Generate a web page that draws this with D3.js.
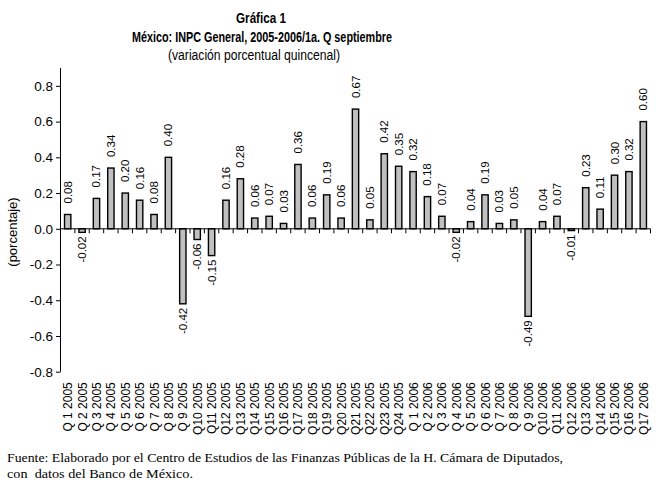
<html>
<meta charset="utf-8">
<head>
  <title>Gráfica 1</title>
  <style>
    body, html { margin: 0; padding: 0; background: white; }
    #chart { width: 660px; height: 482px; }
    .title text { font-family: 'Liberation Sans Narrow', 'Liberation Sans', Arial, sans-serif; fill: #000; }
    .y_axis text { font-family: 'Liberation Sans', Arial, sans-serif; font-size: 13.5px; fill: #000; }
    .y_axis path, .y_axis line, .x_axis path, .x_axis line { stroke: #000; stroke-width: 1; }
    .cat_labels text { font-family: 'Liberation Sans', Arial, sans-serif; font-size: 12px; fill: #000; }
    .val_labels text { font-family: 'Liberation Sans', Arial, sans-serif; font-size: 11.5px; fill: #000; }
    .note text { font-family: 'Liberation Serif', 'Times New Roman', serif; font-size: 13px; fill: #000; }
  </style>
  <script src="https://d3js.org/d3.v7.min.js"></script>
</head>
<body>
<div id="chart"></div>
<script>
// quincenas, 2005 y 2006
var quincenas_2005 = ["Q 1 2005", "Q 2 2005", "Q 3 2005", "Q 4 2005", "Q 5 2005", "Q 6 2005",
                      "Q 7 2005", "Q 8 2005", "Q 9 2005", "Q10 2005", "Q11 2005", "Q12 2005",
                      "Q13 2005", "Q14 2005", "Q15 2005", "Q16 2005", "Q17 2005", "Q18 2005",
                      "Q19 2005", "Q20 2005", "Q21 2005", "Q22 2005", "Q23 2005", "Q24 2005"];
var quincenas_2006 = ["Q 1 2006", "Q 2 2006", "Q 3 2006", "Q 4 2006", "Q 5 2006", "Q 6 2006",
                      "Q 7 2006", "Q 8 2006", "Q 9 2006", "Q10 2006", "Q11 2006", "Q12 2006",
                      "Q13 2006", "Q14 2006", "Q15 2006", "Q16 2006", "Q17 2006"];

// variacion porcentual quincenal del INPC
var inpc_2005 = [0.08, -0.02, 0.17, 0.34, 0.20, 0.16, 0.08, 0.40, -0.42, -0.06, -0.15, 0.16,
                 0.28, 0.06, 0.07, 0.03, 0.36, 0.06, 0.19, 0.06, 0.67, 0.05, 0.42, 0.35];
var inpc_2006 = [0.32, 0.18, 0.07, -0.02, 0.04, 0.19, 0.03, 0.05, -0.49, 0.04, 0.07, -0.01,
                 0.23, 0.11, 0.30, 0.32, 0.60];

var y_ticks = [-0.8, -0.6, -0.4, -0.2, 0.0, 0.2, 0.4, 0.6, 0.8];

var categories = quincenas_2005.concat(quincenas_2006);
var values = inpc_2005.concat(inpc_2006);
var data = categories.map(function(c, i) { return { cat: c, value: values[i] }; });

var margin = { top: 68, left: 60.5 };
var width = 590;
var height = 303.7;

var svg = d3.select("#chart")
            .append("svg")
            .attr("width", 660)
            .attr("height", 482);

var title = svg.append("g").attr("class", "title");
title.append("text")
     .attr("x", 261).attr("y", 22.5)
     .attr("text-anchor", "middle")
     .attr("textLength", 50).attr("lengthAdjust", "spacingAndGlyphs")
     .style("font-size", "14px").style("font-weight", "bold")
     .text("Gráfica 1");
title.append("text")
     .attr("x", 262).attr("y", 41.5)
     .attr("text-anchor", "middle")
     .attr("textLength", 260).attr("lengthAdjust", "spacingAndGlyphs")
     .style("font-size", "14px").style("font-weight", "bold")
     .text("México: INPC General, 2005-2006/1a. Q septiembre");
title.append("text")
     .attr("x", 254).attr("y", 60)
     .attr("text-anchor", "middle")
     .attr("textLength", 172).attr("lengthAdjust", "spacingAndGlyphs")
     .style("font-size", "14px")
     .text("(variación porcentual quincenal)");

var chart = svg.append("g")
               .attr("transform", "translate(" + margin.left + "," + margin.top + ")");

var scale_x = d3.scaleBand()
                .domain(categories)
                .range([0, width])
                .paddingInner(0.56)
                .paddingOuter(0.28);

var scale_y = d3.scaleLinear()
                .domain([-0.8, 0.9])
                .range([height, 0]);

// guion normal en lugar del signo menos unicode
var hyphen = function(s) { return s.replace("\u2212", "-"); };
var fmt = function(d) { return hyphen(d3.format(".1f")(d)); };
var fmt_val = function(d) { return hyphen(d3.format(".2f")(d)); };

// eje y
var y_axis = d3.axisLeft(scale_y)
               .tickValues(y_ticks)
               .tickSize(4.5)
               .tickPadding(3)
               .tickFormat(fmt);
chart.append("g")
     .attr("class", "y_axis")
     .call(y_axis)
     .select(".domain")
     .attr("d", "M0," + scale_y(-0.8) + "V0");

// barras
chart.selectAll(".bars")
     .data(data)
     .enter()
     .append("rect")
     .attr("x", function(d) { return scale_x(d.cat); })
     .attr("width", scale_x.bandwidth())
     .attr("y", function(d) { return scale_y(Math.max(0, d.value)); })
     .attr("height", function(d) { return Math.abs(scale_y(d.value) - scale_y(0)); })
     .attr("fill", "#c0c0c0")
     .attr("stroke", "#000")
     .attr("stroke-width", 1.4);

// eje x en cero, marcas entre categorias
var step = scale_x.step();
var x_axis = chart.append("g")
                  .attr("class", "x_axis")
                  .attr("transform", "translate(0," + scale_y(0) + ")");
x_axis.append("line")
      .attr("x1", 0).attr("x2", width)
      .attr("y1", 0).attr("y2", 0);
x_axis.selectAll(".tick")
      .data(d3.range(categories.length + 1))
      .enter()
      .append("line")
      .attr("x1", function(i) { return i * step; })
      .attr("x2", function(i) { return i * step; })
      .attr("y1", 0).attr("y2", 4.5);

// etiquetas de valor
chart.append("g")
     .attr("class", "val_labels")
     .selectAll("text")
     .data(data)
     .enter()
     .append("text")
     .attr("transform", function(d) {
       var x = scale_x(d.cat) + scale_x.bandwidth() / 2 + 4;
       var y = d.value >= 0 ? scale_y(d.value) - 11 : scale_y(d.value) + 4;
       return "translate(" + x + "," + y + ") rotate(-90)";
     })
     .attr("text-anchor", function(d) { return d.value >= 0 ? "start" : "end"; })
     .text(function(d) { return fmt_val(d.value); });

// etiquetas de categoria abajo del area
chart.append("g")
     .attr("class", "cat_labels")
     .selectAll("text")
     .data(data)
     .enter()
     .append("text")
     .attr("transform", function(d) {
       var x = scale_x(d.cat) + scale_x.bandwidth() / 2 + 4.5;
       return "translate(" + x + "," + (height + 10.5) + ") rotate(-90)";
     })
     .attr("text-anchor", "end")
     .text(function(d) { return d.cat; });

// titulo del eje y
svg.append("text")
   .attr("transform", "translate(17,232) rotate(-90)")
   .attr("text-anchor", "middle")
   .style("font-family", "'Liberation Sans', Arial, sans-serif")
   .style("font-size", "13px")
   .text("(porcentaje)");

// fuente
var note = svg.append("g").attr("class", "note");
note.append("text")
    .attr("x", 7).attr("y", 462)
    .attr("textLength", 556).attr("lengthAdjust", "spacingAndGlyphs")
    .text("Fuente: Elaborado por el Centro de Estudios de las Finanzas Públicas de la H. Cámara de Diputados,");
note.append("text")
    .attr("x", 7).attr("y", 478)
    .attr("textLength", 186).attr("lengthAdjust", "spacingAndGlyphs")
    .style("white-space", "pre")
    .text("con  datos del Banco de México.");
</script>
</body>
</html>
